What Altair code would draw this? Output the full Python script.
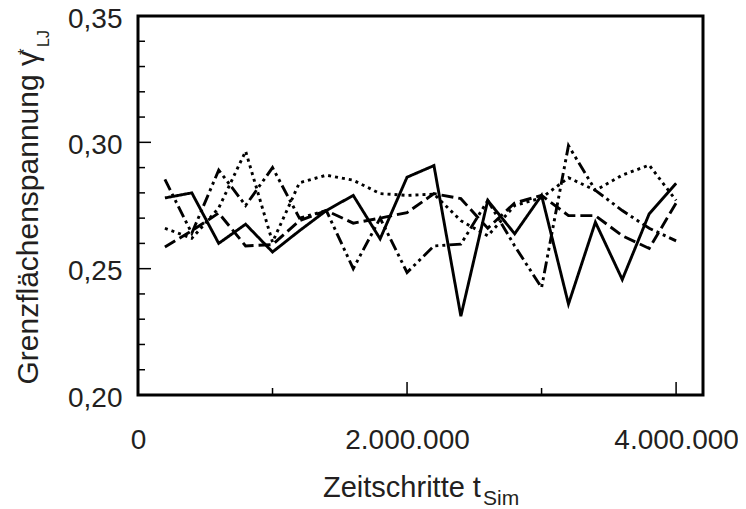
import altair as alt
import pandas as pd

# ---- data ----
t_sim = [200000, 400000, 600000, 800000, 1000000, 1200000, 1400000, 1600000,
         1800000, 2000000, 2200000, 2400000, 2600000, 2800000, 3000000,
         3200000, 3400000, 3600000, 3800000, 4000000]

series_a = [0.278, 0.280, 0.260, 0.2676, 0.2566, 0.265, 0.273, 0.279, 0.2618, 0.2862,
            0.2908, 0.2312, 0.277, 0.2638, 0.279, 0.236, 0.2684, 0.2457, 0.2717, 0.2838]
series_b = [0.2586, 0.265, 0.272, 0.259, 0.2595, 0.269, 0.273, 0.268, 0.270, 0.2722,
            0.2797, 0.2777, 0.266, 0.276, 0.279, 0.271, 0.271, 0.263, 0.258, 0.276]
series_c = [0.266, 0.262, 0.274, 0.2965, 0.2605, 0.284, 0.287, 0.285, 0.2797, 0.279,
            0.2795, 0.269, 0.263, 0.275, 0.278, 0.286, 0.281, 0.287, 0.291, 0.277]
series_d = [0.2853, 0.264, 0.289, 0.275, 0.290, 0.270, 0.273, 0.250, 0.270, 0.2485,
            0.259, 0.2597, 0.277, 0.259, 0.2425, 0.2987, 0.281, 0.273, 0.266, 0.261]

series_names = ["A", "B", "C", "D"]

y_minor_ticks = [0.21, 0.22, 0.23, 0.24, 0.26, 0.27, 0.28, 0.29, 0.31, 0.32, 0.33, 0.34]
y_major_ticks = [0.25, 0.30]
x_minor_ticks = [1000000, 3000000]
x_major_ticks = [2000000, 4000000]
y_label_values = [0.20, 0.25, 0.30, 0.35]
x_label_values = [0, 2000000, 4000000]

y_title_main = ["Grenzflächenspannung γ"]
y_title_sup = ["*"]
y_title_sub = ["LJ"]
x_title_main = ["Zeitschritte t"]
x_title_sub = ["Sim"]

# ---- build table ----
rows = []
for name, vals in zip(series_names, [series_a, series_b, series_c, series_d]):
    for t, v in zip(t_sim, vals):
        rows.append({"t": t, "gamma": v, "series": name})
df = pd.DataFrame(rows)

FONT = "Liberation Sans"
TXT = "#231f20"
W, H = 565, 379

xscale = alt.Scale(domain=[0, 4200000], nice=False, zero=False)
yscale = alt.Scale(domain=[0.20, 0.35], nice=False, zero=False)

x_axis = alt.Axis(
    values=x_label_values, ticks=False, tickSize=0, domain=False, grid=False,
    labelExpr="replace(replace(format(datum.value, ',d'), ',', '.'), ',', '.')",
    labelFontSize=28, labelFont=FONT, labelColor=TXT, labelPadding=31,
    labelFlush=False, labelOverlap=False, title=None)
y_axis = alt.Axis(
    values=y_label_values, ticks=False, tickSize=0, domain=False, grid=False,
    labelExpr="replace(format(datum.value, '.2f'), '.', ',')",
    labelFontSize=28, labelFont=FONT, labelColor=TXT, labelPadding=16,
    labelOffset=3, labelFlush=False, labelOverlap=False, title=None)

lines = alt.Chart(df).mark_line(color="black", strokeWidth=2.9, strokeCap="butt").encode(
    x=alt.X("t:Q", scale=xscale, axis=x_axis),
    y=alt.Y("gamma:Q", scale=yscale, axis=y_axis),
    strokeDash=alt.StrokeDash("series:N", scale=alt.Scale(
        domain=series_names,
        range=[[1, 0], [12, 5], [3, 4], [12, 4, 3, 4, 3, 4]]), legend=None),
    detail="series:N",
)

def yticks(vals, length):
    return alt.Chart(pd.DataFrame({"v": vals})).mark_rule(color="black", strokeWidth=1.5).encode(
        y=alt.Y("v:Q", scale=yscale, axis=y_axis),
        x=alt.value(0), x2=alt.value(length))

def xticks(vals, length):
    return alt.Chart(pd.DataFrame({"v": vals})).mark_rule(color="black", strokeWidth=1.5).encode(
        x=alt.X("v:Q", scale=xscale, axis=x_axis),
        y=alt.value(H), y2=alt.value(H - length))

def label(texts, x, y, size, angle=0, align="left", baseline="alphabetic"):
    return alt.Chart(pd.DataFrame({"s": texts})).mark_text(
        font=FONT, fontSize=size, color=TXT, angle=angle, align=align, baseline=baseline
    ).encode(text="s:N", x=alt.value(x), y=alt.value(y))

chart = alt.layer(
    lines,
    yticks(y_minor_ticks, 7), yticks(y_major_ticks, 13),
    xticks(x_minor_ticks, 7), xticks(x_major_ticks, 13),
    label(y_title_main, -100, 35, 30, angle=270, align="right"),
    label(y_title_sup, -108, 39, 17, angle=270, align="left"),
    label(y_title_sub, -89, 31, 16, angle=270, align="left"),
    label(x_title_main, 185, 481, 29),
    label(x_title_sub, 345, 489, 21),
).properties(
    width=W, height=H,
    autosize=alt.AutoSizeParams(type="none"),
    padding={"left": 130, "top": 8, "right": 35, "bottom": 112},
).configure_view(stroke="black", strokeWidth=3)

chart.save("out.html", embed_options={"renderer": "svg", "actions": False})
